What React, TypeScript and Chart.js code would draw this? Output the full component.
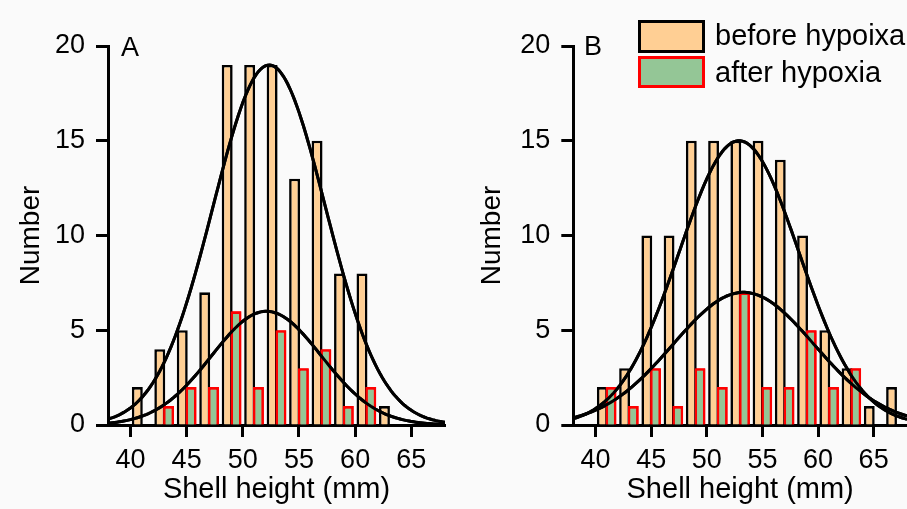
import { useEffect, useRef } from "react";
import { Chart, registerables } from "chart.js";

Chart.register(...registerables);

// ---- Data ----
const BINS_A = [41, 43, 45, 47, 49, 51, 53, 55, 57, 59, 61, 63];
const BEFORE_A = [2, 4, 5, 7, 19, 19, 19, 13, 15, 8, 8, 1];
const AFTER_A = [null, 1, 2, 2, 6, 2, 5, 3, 4, 1, 2, null];

const BINS_B = [41, 43, 45, 47, 49, 51, 53, 55, 57, 59, 61, 63, 65, 67];
const BEFORE_B = [2, 3, 10, 10, 15, 15, 15, 15, 14, 10, 5, 3, 1, 2];
const AFTER_B = [2, 1, 3, 1, 3, 2, 7, 2, 2, 5, 2, 3, null, null];

// normal-curve fits (mean, standard deviation, peak height)
const FIT_A_BEFORE = { mean: 52.35, sd: 5.0, peak: 19 };
const FIT_A_AFTER = { mean: 52.1, sd: 4.9, peak: 6 };
const FIT_B_BEFORE = { mean: 52.9, sd: 5.4, peak: 15 };
const FIT_B_AFTER = { mean: 53.3, sd: 6.35, peak: 7 };

const X_TICKS = [40, 45, 50, 55, 60, 65];
const Y_TICKS = [0, 5, 10, 15, 20];
const X_MIN = 38;
const X_MAX = 68;
const Y_MAX = 20;

const LEGEND_BEFORE = "before hypoixa";
const LEGEND_AFTER = "after hypoxia";
const X_TITLE = "Shell height (mm)";
const Y_TITLE = "Number";

const ORANGE = "#FFCF94";
const GREEN = "#94C696";
const FONT = "'Liberation Sans', Arial, sans-serif";

type Fit = { mean: number; sd: number; peak: number };

function curve(fit: Fit) {
  const pts: { x: number; y: number }[] = [];
  for (let x = X_MIN; x <= X_MAX + 1e-9; x += 0.2) {
    const z = (x - fit.mean) / fit.sd;
    pts.push({ x, y: fit.peak * Math.exp(-0.5 * z * z) });
  }
  return pts;
}

// draw "after" bars over "before" bars, then the curves on top of everything
const layerPlugin = {
  id: "layerOrder",
  afterDatasetsDraw(chart: any) {
    const ctx = chart.ctx;
    const a = chart.chartArea;
    ctx.save();
    chart.getDatasetMeta(3).controller.draw();
    ctx.beginPath();
    ctx.rect(a.left, a.top - 3, a.right - a.left, a.bottom - a.top + 3);
    ctx.clip();
    chart.getDatasetMeta(0).controller.draw();
    chart.getDatasetMeta(1).controller.draw();
    ctx.restore();
  },
};

type PanelProps = {
  bins: number[];
  before: (number | null)[];
  after: (number | null)[];
  fitBefore: Fit;
  fitAfter: Fit;
  left: number;
  width: number;
  padLeft: number;
  padRight: number;
  yWidth: number;
};

function Panel(p: PanelProps) {
  const ref = useRef<HTMLCanvasElement | null>(null);
  useEffect(() => {
    if (!ref.current) return;
    const tickFont = { family: FONT, size: 27 };
    const lineDs = (fit: Fit) =>
      ({
        type: "line",
        data: curve(fit),
        borderColor: "#000",
        borderWidth: 3,
        pointRadius: 0,
        fill: false,
        order: 0,
      }) as any;
    const chart = new Chart(ref.current, {
      type: "bar",
      data: {
        datasets: [
          lineDs(p.fitBefore),
          lineDs(p.fitAfter),
          {
            type: "bar",
            data: p.bins.map((b, i) => ({ x: b, y: p.before[i] })),
            backgroundColor: ORANGE,
            borderColor: "#000",
            borderWidth: 2.6,
            categoryPercentage: 0.78,
            barPercentage: 1.25,
            order: 1,
          },
          {
            type: "bar",
            data: p.bins.map((b, i) => ({ x: b, y: p.after[i] })),
            backgroundColor: GREEN,
            borderColor: "#ff0000",
            borderWidth: 2.6,
            categoryPercentage: 0.78,
            barPercentage: 1.25,
            order: 2,
          },
        ],
      },
      options: {
        animation: false,
        responsive: false,
        maintainAspectRatio: false,
        layout: { padding: { top: 46, left: p.padLeft, right: p.padRight, bottom: 0 } },
        plugins: { legend: { display: false }, tooltip: { enabled: false } },
        scales: {
          x: {
            type: "linear",
            min: X_MIN,
            max: X_MAX,
            offset: false,
            afterBuildTicks: (s: any) => {
              s.ticks = X_TICKS.map((v) => ({ value: v }));
            },
            afterFit: (s: any) => {
              s.height = 84;
            },
            ticks: { color: "#000", font: tickFont, padding: 7, maxRotation: 0, autoSkip: false },
            grid: {
              display: true,
              offset: false,
              drawOnChartArea: false,
              drawTicks: true,
              tickLength: 12,
              tickWidth: 3,
              tickColor: "#000",
            },
            border: { display: true, color: "#000", width: 3 },
            title: {
              display: true,
              text: X_TITLE,
              color: "#000",
              font: { family: FONT, size: 29 },
              padding: { top: 0, bottom: 2 },
            },
          },
          y: {
            type: "linear",
            min: 0,
            max: Y_MAX,
            afterBuildTicks: (s: any) => {
              s.ticks = Y_TICKS.map((v) => ({ value: v }));
            },
            afterFit: (s: any) => {
              s.width = p.yWidth;
            },
            ticks: { color: "#000", font: tickFont, padding: 11 },
            grid: {
              display: true,
              drawOnChartArea: false,
              drawTicks: true,
              tickLength: 12,
              tickWidth: 3,
              tickColor: "#000",
            },
            border: { display: true, color: "#000", width: 3 },
            title: {
              display: true,
              text: Y_TITLE,
              color: "#000",
              font: { family: FONT, size: 28 },
              padding: { top: 14, bottom: 0 },
            },
          },
        },
      } as any,
      plugins: [layerPlugin],
    });
    return () => chart.destroy();
  }, []);
  return (
    <canvas
      ref={ref}
      width={p.width}
      height={509}
      style={{ position: "absolute", left: p.left, top: 0, width: p.width, height: 509 }}
    />
  );
}

const textStyle: any = {
  position: "absolute",
  fontFamily: FONT,
  color: "#000",
  whiteSpace: "nowrap",
};

export default function App() {
  return (
    <div
      style={{
        position: "fixed",
        left: 0,
        top: 0,
        width: 907,
        height: 509,
        background: "#fafafa",
        overflow: "hidden",
      }}
    >
      <Panel
        bins={BINS_A}
        before={BEFORE_A}
        after={AFTER_A}
        fitBefore={FIT_A_BEFORE}
        fitAfter={FIT_A_AFTER}
        left={0}
        width={453}
        padLeft={0}
        padRight={8}
        yWidth={108}
      />
      <Panel
        bins={BINS_B}
        before={BEFORE_B}
        after={AFTER_B}
        fitBefore={FIT_B_BEFORE}
        fitAfter={FIT_B_AFTER}
        left={453}
        width={454}
        padLeft={8.5}
        padRight={0}
        yWidth={111.8}
      />
      <div style={{ ...textStyle, left: 121, top: 33.5, fontSize: 27, lineHeight: "27px" }}>A</div>
      <div style={{ ...textStyle, left: 584, top: 33, fontSize: 27, lineHeight: "27px" }}>B</div>
      <div
        style={{
          position: "absolute",
          left: 638,
          top: 20,
          width: 67,
          height: 33,
          boxSizing: "border-box",
          background: ORANGE,
          border: "3px solid #000",
        }}
      />
      <div
        style={{
          position: "absolute",
          left: 638,
          top: 56,
          width: 67,
          height: 32,
          boxSizing: "border-box",
          background: GREEN,
          border: "3px solid #ff0000",
        }}
      />
      <div style={{ ...textStyle, left: 715, top: 19, fontSize: 29, lineHeight: "32px" }}>{LEGEND_BEFORE}</div>
      <div style={{ ...textStyle, left: 715, top: 56, fontSize: 29, lineHeight: "32px" }}>{LEGEND_AFTER}</div>
    </div>
  );
}
